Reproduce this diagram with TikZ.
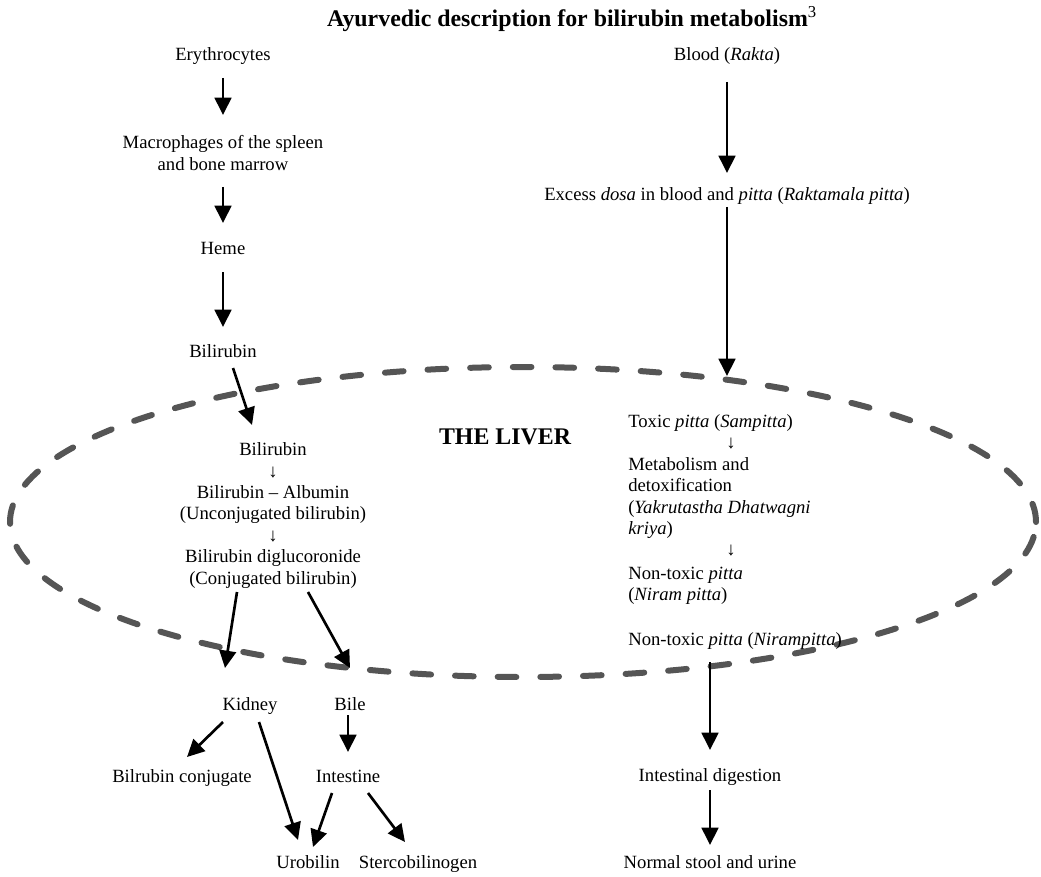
\documentclass[tikz,border=0pt]{standalone}
\usepackage{fontspec}
\setmainfont{Liberation Serif}
\usetikzlibrary{arrows.meta,calc}
\definecolor{liverdash}{RGB}{85,85,85}
\begin{document}
\begin{tikzpicture}[x=0.75pt,y=-0.75pt,
    block/.style={inner sep=0pt,font=\fontsize{14}{16.1}\selectfont,align=center},
    txt/.style={block,text height=0.9em,text depth=0.11em},
    hd/.style={inner sep=0pt,font=\fontsize{17.9}{20}\selectfont\bfseries},
    arr/.style={line width=2pt,-{Triangle[length=13pt,width=12.5pt]}},
    liverline/.style={line width=4.5pt,draw=liverdash,line cap=round,dash pattern=on 14pt off 18pt}]
      \useasboundingbox (0,0) rectangle (1041,877);
      \draw[liverline] (523,522) ellipse [x radius=384.75pt,y radius=116.25pt];
      \node[hd] (title) at (572,19) {Ayurvedic description for bilirubin metabolism\textsuperscript{\mdseries 3}};
      \node[txt] (ery) at (223,55) {Erythrocytes};
      \node[block] (mac) at (223,153) {Macrophages of the spleen\\and bone marrow};
      \node[txt] (heme) at (223,249) {Heme};
      \node[txt] (bil) at (223,352) {Bilirubin};
      \node[block] (inbil) at (273,515.5) {Bilirubin\\↓\\Bilirubin – Albumin\\(Unconjugated bilirubin)\\↓\\Bilirubin diglucoronide\\(Conjugated bilirubin)};
      \node[hd] (liver) at (505,437) {THE LIVER};
      \node[txt] (kid) at (250,705) {Kidney};
      \node[txt] (bile) at (350,705) {Bile};
      \node[txt] (bconj) at (182,777) {Bilrubin conjugate};
      \node[txt] (intes) at (348,777) {Intestine};
      \node[txt] (uro) at (308,863) {Urobilin};
      \node[txt] (sterco) at (418,863) {Stercobilinogen};
      \node[txt] (blood) at (727,55) {Blood (\textit{Rakta})};
      \node[txt] (excess) at (727,195) {Excess \textit{dosa} in blood and \textit{pitta} (\textit{Raktamala pitta})};
      \node[txt,anchor=west,align=left] (tox) at (628,422) {Toxic \textit{pitta} (\textit{Sampitta})};
      \node[txt] (down1) at (731,443) {↓};
      \node[block,anchor=west,align=left] (meta) at (628,498) {Metabolism and\\detoxification\\(\textit{Yakrutastha Dhatwagni}\\\textit{kriya})};
      \node[txt] (down2) at (731,550) {↓};
      \node[block,anchor=west,align=left] (nontox) at (628,586) {Non-toxic \textit{pitta}\\(\textit{Niram pitta})};
      \node[txt,anchor=west] (niram) at (628,640) {Non-toxic \textit{pitta} (\textit{Nirampitta})};
      \node[txt] (dig) at (710,776) {Intestinal digestion};
      \node[txt] (stool) at (710,863) {Normal stool and urine};
      \coordinate (inlet) at (727,376);
      \draw[arr] ($(ery)+(0,23)$) -- ($(mac)+(0,-38)$);
      \draw[arr] ($(mac)+(0,34)$) -- ($(heme)+(0,-26)$);
      \draw[arr] ($(heme)+(0,23)$) -- ($(bil)+(0,-25)$);
      \draw[arr] ($(bil)+(10,16)$) -- ($(inbil)+(-21,-90.5)$);
      \draw[arr] ($(inbil)+(-36,76.5)$) -- ($(kid)+(-25,-37)$);
      \draw[arr] ($(inbil)+(35,76.5)$) -- ($(bile)+(0,-37)$);
      \draw[arr] ($(kid)+(-27,17)$) -- ($(bconj)+(5,-20)$);
      \draw[arr] ($(kid)+(9,17)$) -- ($(uro)+(-10,-23)$);
      \draw[arr] ($(bile)+(-2,10)$) -- ($(intes)+(0,-25)$);
      \draw[arr] ($(intes)+(-16,16)$) -- ($(uro)+(5,-16)$);
      \draw[arr] ($(intes)+(20,16)$) -- ($(sterco)+(-13,-21)$);
      \draw[arr] ($(blood)+(0,27)$) -- ($(excess)+(0,-22)$);
      \draw[arr] ($(excess)+(0,12)$) -- (inlet);
      \draw[arr] ($(niram.west)+(82,22)$) -- ($(dig)+(0,-26)$);
      \draw[arr] ($(dig)+(0,14)$) -- ($(stool)+(0,-18)$);
    \end{tikzpicture}
\end{document}
